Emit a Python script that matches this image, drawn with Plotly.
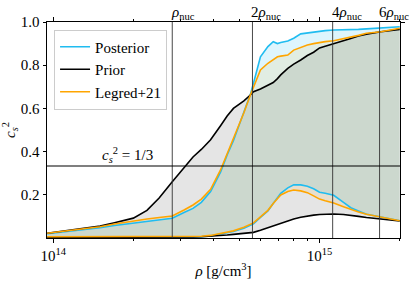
import math
import plotly.graph_objects as go

# density grid [g/cm^3]
rho = [9.5e13, 1.3e14, 1.5e14, 1.7e14, 2.0e14, 2.25e14, 2.5e14, 2.8e14, 3.1e14, 3.35e14,
       3.6e14, 3.9e14, 4.25e14, 4.5e14, 4.75e14, 5.2e14, 5.5e14, 5.65e14, 6.0e14, 6.4e14,
       6.7e14, 6.95e14, 7.15e14, 7.6e14, 8.0e14, 8.5e14, 9.0e14, 9.5e14, 1.0e15, 1.05e15,
       1.13e15, 1.23e15, 1.31e15, 1.4e15, 1.5e15, 1.7e15, 2.0e15]

prior_up = [0.022, 0.045, 0.055, 0.071, 0.092, 0.128, 0.185, 0.26, 0.325, 0.375,
            0.41, 0.455, 0.52, 0.565, 0.60, 0.635, 0.662, 0.677, 0.69, 0.708,
            0.72, 0.738, 0.755, 0.785, 0.805, 0.824, 0.845, 0.86, 0.88, 0.888,
            0.901, 0.914, 0.924, 0.935, 0.944, 0.955, 0.966]
prior_lo = [0.002, 0.002, 0.002, 0.002, 0.002, 0.002, 0.002, 0.003, 0.004, 0.005,
            0.006, 0.008, 0.011, 0.014, 0.017, 0.020, 0.024, 0.026, 0.036, 0.048,
            0.056, 0.064, 0.070, 0.080, 0.088, 0.096, 0.102, 0.106, 0.109, 0.110,
            0.111, 0.109, 0.106, 0.100, 0.095, 0.088, 0.079]

post_up = [0.020, 0.038, 0.048, 0.058, 0.068, 0.076, 0.084, 0.091, 0.118, 0.137,
           0.165, 0.215, 0.305, 0.385, 0.45, 0.585, 0.665, 0.716, 0.839, 0.886,
           0.909, 0.900, 0.905, 0.912, 0.925, 0.945, 0.950, 0.952, 0.958, 0.960,
           0.963, 0.963, 0.963, 0.966, 0.968, 0.971, 0.978]
post_lo = [0.004, 0.004, 0.004, 0.004, 0.004, 0.004, 0.005, 0.005, 0.005, 0.006,
           0.006, 0.010, 0.018, 0.024, 0.030, 0.045, 0.058, 0.066, 0.095, 0.125,
           0.160, 0.190, 0.207, 0.232, 0.246, 0.246, 0.240, 0.228, 0.212, 0.207,
           0.198, 0.165, 0.140, 0.125, 0.110, 0.097, 0.080]

leg_up = [0.022, 0.042, 0.052, 0.065, 0.080, 0.088, 0.095, 0.102, 0.130, 0.153,
          0.180, 0.225, 0.315, 0.39, 0.454, 0.58, 0.662, 0.70, 0.778, 0.809,
          0.828, 0.839, 0.842, 0.847, 0.870, 0.884, 0.894, 0.900, 0.906, 0.909,
          0.913, 0.922, 0.929, 0.938, 0.948, 0.955, 0.971]
leg_lo = [0.006, 0.006, 0.006, 0.006, 0.006, 0.006, 0.007, 0.007, 0.007, 0.008,
          0.008, 0.012, 0.020, 0.026, 0.033, 0.050, 0.063, 0.070, 0.098, 0.128,
          0.160, 0.185, 0.199, 0.215, 0.222, 0.218, 0.210, 0.195, 0.180, 0.172,
          0.162, 0.145, 0.132, 0.120, 0.110, 0.096, 0.080]

rho_nuc = 2.8e14
nuc_multiples = [1, 2, 4, 6]
nuc_labels = ["<i>ρ</i><sub>nuc</sub>", "2<i>ρ</i><sub>nuc</sub>",
              "4<i>ρ</i><sub>nuc</sub>", "6<i>ρ</i><sub>nuc</sub>"]
cs2_conformal = 1 / 3

FONT = "Liberation Serif, DejaVu Serif, Times New Roman, serif"
BLUE = "#20bcf0"
ORANGE = "#ffa500"

fig = go.Figure()

def band(lo, up, fillcolor):
    fig.add_trace(go.Scatter(x=rho + rho[::-1], y=up + lo[::-1], fill="toself",
                             fillcolor=fillcolor, line=dict(width=0), mode="lines",
                             showlegend=False, hoverinfo="skip"))

band(prior_lo, prior_up, "rgba(0,0,0,0.10)")
band(post_lo, post_up, "rgba(0,180,240,0.13)")
band(leg_lo, leg_up, "rgba(255,165,0,0.10)")

def lines(lo, up, color, name):
    fig.add_trace(go.Scatter(x=rho, y=up, mode="lines", line=dict(color=color, width=1.6),
                             name=name))
    fig.add_trace(go.Scatter(x=rho, y=lo, mode="lines", line=dict(color=color, width=1.6),
                             showlegend=False))

lines(post_lo, post_up, BLUE, "Posterior")
lines(prior_lo, prior_up, "black", "Prior")
lines(leg_lo, leg_up, ORANGE, "Legred+21")

for m, lab in zip(nuc_multiples, nuc_labels):
    fig.add_shape(type="line", xref="x", yref="paper", x0=m * rho_nuc, x1=m * rho_nuc,
                  y0=0, y1=1, line=dict(color="#333", width=0.9), layer="above")
    fig.add_annotation(x=math.log10(m * rho_nuc), y=1.0, xref="x", yref="paper",
                       text=lab, showarrow=False, xanchor="left", yanchor="bottom",
                       xshift=-3, yshift=-2, font=dict(family=FONT, size=15, color="black"))

fig.add_shape(type="line", xref="paper", yref="y", x0=0, x1=1, y0=cs2_conformal,
              y1=cs2_conformal, line=dict(color="black", width=1.2), layer="above")
fig.add_annotation(x=math.log10(1.9e14), y=cs2_conformal, xref="x", yref="y",
                   text="<i>c</i><sub><i>s</i></sub><sup>2</sup> = 1/3", showarrow=False,
                   yanchor="bottom", yshift=-1, font=dict(family=FONT, size=15, color="black"))

minor_x = [k * 10 ** e for e in (13, 14, 15) for k in range(2, 10)]
minor_x = [v for v in minor_x if 9.4e13 < v < 2.01e15]

fig.update_xaxes(type="log", range=[13.977, 15.302], automargin=False,
                 tickvals=[1e14, 1e15], ticktext=["10<sup>14</sup>", "10<sup>15</sup>"],
                 ticks="outside", ticklen=4, tickwidth=1, tickcolor="black",
                 minor=dict(tickvals=minor_x, ticks="outside", ticklen=2, tickcolor="black"),
                 showline=True, linecolor="black", linewidth=1, mirror="ticks",
                 showgrid=False, zeroline=False,
                 title=dict(text="<i>ρ</i> [g/cm<sup>3</sup>]", standoff=2,
                            font=dict(family=FONT, size=15, color="black")),
                 tickfont=dict(family=FONT, size=15, color="black"))
fig.update_yaxes(range=[0, 1], automargin=False, tickvals=[0.2, 0.4, 0.6, 0.8, 1.0],
                 ticktext=["0.2", "0.4", "0.6", "0.8", "1.0"],
                 ticks="outside", ticklen=3.5, tickwidth=1, tickcolor="black",
                 showline=True, linecolor="black", linewidth=1, mirror="ticks",
                 showgrid=False, zeroline=False,
                 title=dict(text="<i>c</i><sub><i>s</i></sub><sup>2</sup>", standoff=4,
                            font=dict(family=FONT, size=15, color="black")),
                 tickfont=dict(family=FONT, size=15, color="black"))

fig.update_layout(
    width=415, height=281, margin=dict(l=47, r=15, t=22, b=43),
    paper_bgcolor="white", plot_bgcolor="white",
    legend=dict(x=0.02, y=0.965, xanchor="left", yanchor="top",
                bgcolor="rgba(255,255,255,0.8)", bordercolor="#cccccc", borderwidth=1,
                font=dict(family=FONT, size=15, color="black"), itemwidth=30,
                tracegroupgap=0),
    font=dict(family=FONT, size=15, color="black"),
)

fig.write_html("out.html", config={"displayModeBar": False},
               post_script="document.body.style.margin='0';")
